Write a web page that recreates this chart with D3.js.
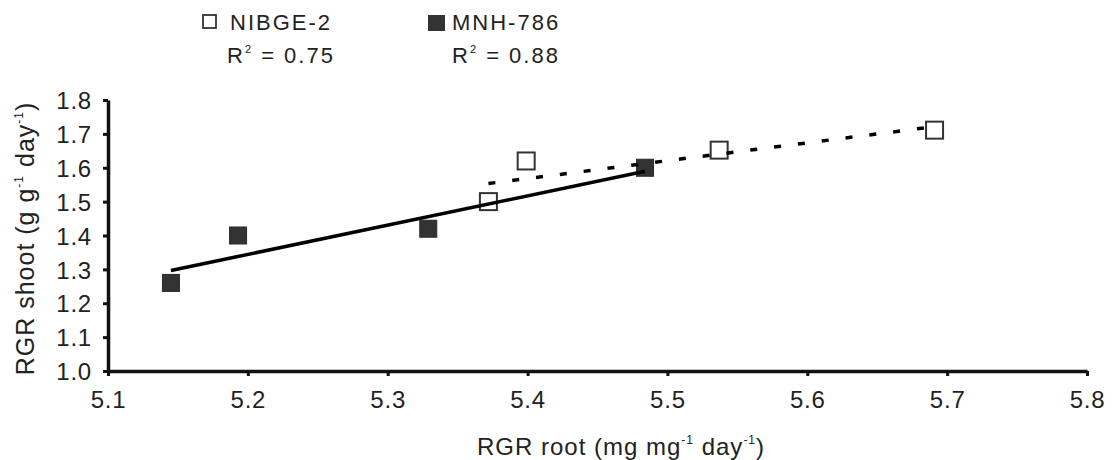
<!DOCTYPE html>
<html>
<head>
<meta charset="utf-8">
<script src="https://cdn.jsdelivr.net/npm/d3@7"></script>
<style>
  body { margin: 0; background: #fff; }
  text { font-family: "Liberation Sans", Arial, sans-serif; fill: #222; }
</style>
</head>
<body>
<div id="chart"></div>
<script>
// Data
const nibgeRoot = [5.372, 5.399, 5.537, 5.691];
const nibgeShoot = [1.50, 1.62, 1.652, 1.711];
const mnhRoot = [5.145, 5.193, 5.329, 5.484];
const mnhShoot = [1.26, 1.40, 1.42, 1.60];
const xTicks = [5.1, 5.2, 5.3, 5.4, 5.5, 5.6, 5.7, 5.8];
const yTicks = [1.0, 1.1, 1.2, 1.3, 1.4, 1.5, 1.6, 1.7, 1.8];
const seriesNames = ["NIBGE-2", "MNH-786"];
const r2Labels = ["0.75", "0.88"];

const width = 1112;
const height = 460;

const svg = d3.select("#chart")
  .append("svg")
  .attr("width", width)
  .attr("height", height);

const x = d3.scaleLinear().domain([5.1, 5.8]).range([108, 1087]);
const y = d3.scaleLinear().domain([1.0, 1.8]).range([371, 100]);

// Least squares fit
function fit(xs, ys) {
  const mx = d3.mean(xs), my = d3.mean(ys);
  let sxy = 0, sxx = 0;
  xs.forEach((v, i) => { sxy += (v - mx) * (ys[i] - my); sxx += (v - mx) ** 2; });
  const b = sxy / sxx;
  const a = my - b * mx;
  const ext = d3.extent(xs);
  return ext.map(v => ({ x: v, y: a + b * v }));
}

// Axes
const xAxis = svg.append("g")
  .attr("transform", `translate(0,${y(1.0)})`)
  .call(d3.axisBottom(x).tickValues(xTicks).tickFormat(d3.format(".1f")).tickSizeInner(5).tickSizeOuter(0).tickPadding(15));
const yAxis = svg.append("g")
  .attr("transform", `translate(${x(5.1)},0)`)
  .call(d3.axisLeft(y).tickValues(yTicks).tickFormat(d3.format(".1f")).tickSizeInner(5).tickSizeOuter(0).tickPadding(11));

[xAxis, yAxis].forEach(g => {
  g.select(".domain").attr("stroke", "#111").attr("stroke-width", 3.5);
  g.selectAll(".tick line").attr("stroke", "#111").attr("stroke-width", 3);
  g.selectAll(".tick text")
    .attr("font-size", 24)
    .attr("letter-spacing", 0.8)
    .attr("fill", "#222")
    .style("font-family", "'Liberation Sans', Arial, sans-serif");
});
xAxis.selectAll(".tick text").attr("dy", "0.71em");
yAxis.selectAll(".tick text").attr("dy", "0.36em");

// Axis titles
const xTitle = svg.append("text")
  .attr("x", 621)
  .attr("y", 455)
  .attr("text-anchor", "middle")
  .attr("font-size", 24)
  .attr("letter-spacing", 1);
xTitle.append("tspan").text("RGR root (mg mg");
xTitle.append("tspan").attr("font-size", 12).attr("dy", -11).text("-1");
xTitle.append("tspan").attr("dy", 11).text(" day");
xTitle.append("tspan").attr("font-size", 12).attr("dy", -11).text("-1");
xTitle.append("tspan").attr("dy", 11).text(")");

const yTitle = svg.append("text")
  .attr("transform", `translate(34,${(y(1.0) + y(1.8)) / 2 + 3}) rotate(-90)`)
  .attr("text-anchor", "middle")
  .attr("font-size", 25)
  .attr("letter-spacing", 1);
yTitle.append("tspan").text("RGR shoot (g g");
yTitle.append("tspan").attr("font-size", 12).attr("dy", -11).text("-1");
yTitle.append("tspan").attr("dy", 11).text(" day");
yTitle.append("tspan").attr("font-size", 12).attr("dy", -11).text("-1");
yTitle.append("tspan").attr("dy", 11).text(")");

// Markers
const size = 17;
const nibge = nibgeRoot.map((v, i) => ({ x: v, y: nibgeShoot[i] }));
const mnh = mnhRoot.map((v, i) => ({ x: v, y: mnhShoot[i] }));

svg.selectAll(".mnh")
  .data(mnh)
  .enter()
  .append("rect")
  .attr("class", "mnh")
  .attr("x", d => x(d.x) - size / 2)
  .attr("y", d => y(d.y) - size / 2)
  .attr("width", size)
  .attr("height", size)
  .attr("fill", "#333")
  .attr("stroke", "#2a2a2a")
  .attr("stroke-width", 1);

svg.selectAll(".nibge")
  .data(nibge)
  .enter()
  .append("rect")
  .attr("class", "nibge")
  .attr("x", d => x(d.x) - size / 2)
  .attr("y", d => y(d.y) - size / 2)
  .attr("width", size)
  .attr("height", size)
  .attr("fill", "#fff")
  .attr("stroke", "#333")
  .attr("stroke-width", 2);

// Trendlines
const line = d3.line().x(d => x(d.x)).y(d => y(d.y));
svg.append("path")
  .datum(fit(mnhRoot, mnhShoot))
  .attr("d", line)
  .attr("fill", "none")
  .attr("stroke", "#000")
  .attr("stroke-width", 3.5);
svg.append("path")
  .datum(fit(nibgeRoot, nibgeShoot))
  .attr("d", line)
  .attr("fill", "none")
  .attr("stroke", "#000")
  .attr("stroke-width", 3.5)
  .attr("stroke-dasharray", "7,17");

// Legend
const legend = svg.append("g");
legend.append("rect")
  .attr("x", 203).attr("y", 15).attr("width", 13).attr("height", 13)
  .attr("fill", "#fff").attr("stroke", "#333").attr("stroke-width", 1.8);
legend.append("rect")
  .attr("x", 428).attr("y", 15).attr("width", 17).attr("height", 16)
  .attr("fill", "#333");
[230, 452].forEach((lx, i) => {
  legend.append("text")
    .attr("x", lx).attr("y", 30)
    .attr("font-size", 22).attr("letter-spacing", 2)
    .text(seriesNames[i]);
  const r = legend.append("text")
    .attr("x", lx - 3 + i * 3).attr("y", 63)
    .attr("font-size", 22).attr("letter-spacing", 2);
  r.append("tspan").text("R");
  r.append("tspan").attr("font-size", 11).attr("dy", -10).text("2");
  r.append("tspan").attr("dy", 10).text(" = " + r2Labels[i]);
});
</script>
</body>
</html>
